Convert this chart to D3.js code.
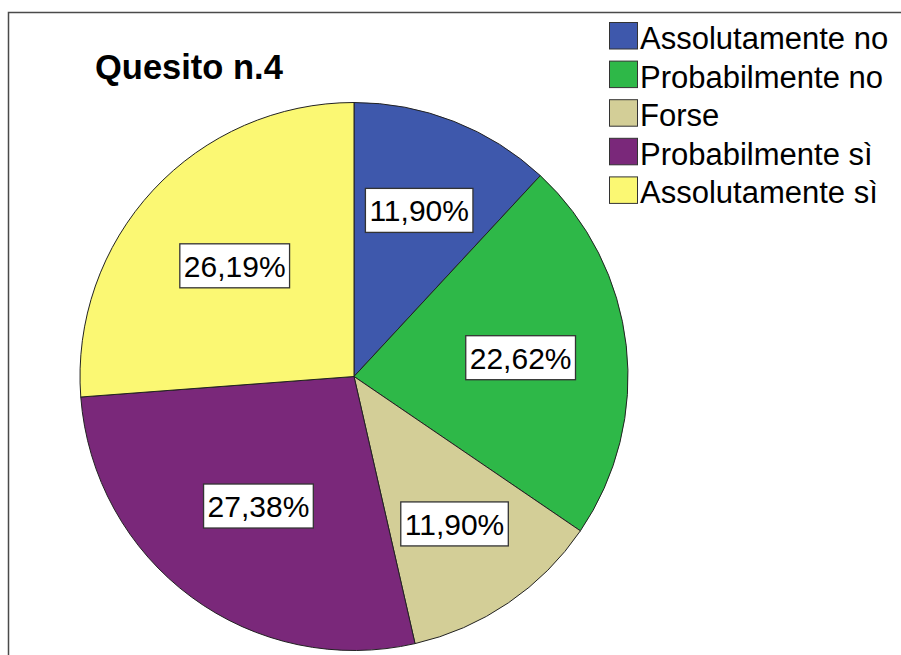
<!DOCTYPE html>
<html>
<head>
<meta charset="utf-8">
<script src="https://d3js.org/d3.v7.min.js"></script>
<style>
  body { margin: 0; background: #fff; }
  text { font-family: "Liberation Sans", Arial, sans-serif; }
</style>
</head>
<body>
<script>
// chart data
var title = "Quesito n.4";
var categories = ["Assolutamente no", "Probabilmente no", "Forse", "Probabilmente sì", "Assolutamente sì"];
var percents = [11.90, 22.62, 11.90, 27.38, 26.19];
var colors = ["#3e58ac", "#2eb848", "#d3ce97", "#7a287a", "#fbf873"];

var width = 901, height = 655;
var cx = 354, cy = 376.5, radius = 274;

var svg = d3.select("body")
    .append("svg")
    .attr("width", width)
    .attr("height", height);

// frame (top and left edges only visible)
svg.append("path")
    .attr("d", "M8.5," + height + "V12.5H" + width)
    .attr("fill", "none")
    .attr("stroke", "#4a4a4a")
    .attr("stroke-width", 1.5);

svg.append("text")
    .attr("x", 95)
    .attr("y", 79)
    .attr("font-size", 34.5)
    .attr("font-weight", "bold")
    .attr("fill", "#000")
    .text(title);

var pie = d3.pie().sort(null).value(function(d) { return d; });
var arcs = pie(percents);
var arc = d3.arc().innerRadius(0).outerRadius(radius);

var g = svg.append("g")
    .attr("transform", "translate(" + cx + "," + cy + ")");

g.selectAll("path")
    .data(arcs)
    .enter()
    .append("path")
    .attr("d", arc)
    .attr("fill", function(d, i) { return colors[i]; })
    .attr("stroke", "#222")
    .attr("stroke-width", 1);

var fmt = function(v) { return d3.format(".2f")(v).replace(".", ",") + "%"; };

// labels at the area centroid of each slice
var labels = g.selectAll("g.lab")
    .data(arcs)
    .enter()
    .append("g")
    .attr("class", "lab")
    .attr("transform", function(d) {
        var th = d.endAngle - d.startAngle;
        var mid = (d.startAngle + d.endAngle) / 2;
        var dist = 4 * radius * Math.sin(th / 2) / (3 * th);
        return "translate(" + (dist * Math.sin(mid)) + "," + (-dist * Math.cos(mid)) + ")";
    });

labels.each(function(d, i) {
    var lab = d3.select(this);
    var rect = lab.append("rect");
    var t = lab.append("text")
        .attr("text-anchor", "middle")
        .attr("y", 11)
        .attr("font-size", 30)
        .attr("fill", "#000")
        .text(fmt(percents[i]));
    var w = t.node().getComputedTextLength() + 8;
    rect.attr("x", -w / 2)
        .attr("y", -22)
        .attr("width", w)
        .attr("height", 44)
        .attr("fill", "#fff")
        .attr("stroke", "#333")
        .attr("stroke-width", 1.3);
});

// legend
var legend = svg.append("g")
    .attr("transform", "translate(609,22)");

var rows = legend.selectAll("g")
    .data(categories)
    .enter()
    .append("g")
    .attr("transform", function(d, i) { return "translate(0," + (i * 38.6) + ")"; });

rows.append("rect")
    .attr("x", 0.5)
    .attr("y", 0.5)
    .attr("width", 28)
    .attr("height", 26.5)
    .attr("fill", function(d, i) { return colors[i]; })
    .attr("stroke", "#333")
    .attr("stroke-width", 1);

rows.append("text")
    .attr("x", 31)
    .attr("y", 27)
    .attr("font-size", 31)
    .attr("fill", "#000")
    .text(function(d) { return d; });
</script>
</body>
</html>
